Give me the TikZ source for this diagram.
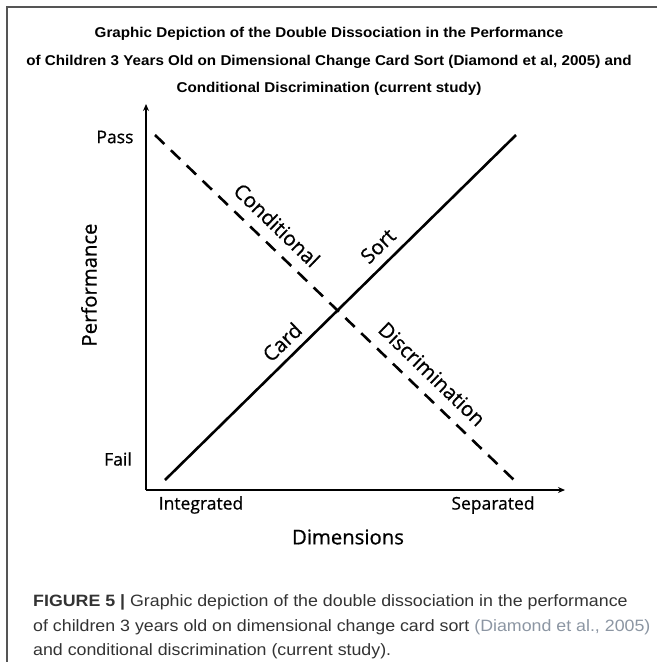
\documentclass[tikz,border=0pt]{standalone}
\usepackage{fontspec}
\usepackage{graphicx}
\setmainfont{Open Sans}
\newfontfamily\lblfont[FakeBold=0.7]{Open Sans}
\newfontfamily\titlefont{Liberation Sans}
\newfontfamily\capfont{Liberation Sans}
\usetikzlibrary{arrows.meta}
\definecolor{capgray}{HTML}{333333}
\definecolor{citegray}{HTML}{8C96A3}
\definecolor{framegray}{HTML}{555555}
\newcommand{\ttlx}[1]{\scalebox{1.07}[1]{#1}}
\newcommand{\capx}[1]{\scalebox{1.085}[1]{#1}}
\tikzset{
  axis/.style={line width=1.4pt, -{Stealth[length=7pt,width=6pt]}},
  solidline/.style={line width=2.6pt},
  dashline/.style={line width=2.6pt, dash pattern=on 13pt off 9pt},
  lbl/.style={font=\lblfont\fontsize{17.5}{20}\selectfont, inner sep=0pt},
  linelbl/.style={font=\lblfont\fontsize{20.5}{23}\selectfont, inner sep=0pt},
  big/.style={font=\lblfont\fontsize{20.3}{23}\selectfont, inner sep=0pt},
  ttl/.style={font=\titlefont\bfseries\fontsize{14.2}{16}\selectfont, inner sep=0pt},
  captext/.style={font=\capfont\fontsize{16.4}{19}\selectfont, text=capgray, inner sep=0pt, anchor=west}
}
\begin{document}
\begin{tikzpicture}[x=1pt,y=-1pt]
\useasboundingbox (0,0) rectangle (657,662);
\fill[white] (0,0) rectangle (657,662);
% frame
\coordinate (ftl) at (7,7);
\coordinate (ftr) at (657,7);
\coordinate (fbl) at (7,662);
\draw[framegray, line width=1.3pt] (ftr) -- (ftl) -- (fbl);
% title
\node[ttl] (t1) at (329,34) {\ttlx{Graphic Depiction of the Double Dissociation in the Performance}};
\node[ttl] (t2) at (329,62) {\ttlx{of Children 3 Years Old on Dimensional Change Card Sort (Diamond et al, 2005) and}};
\node[ttl] (t3) at (329,89) {\ttlx{Conditional Discrimination (current study)}};
% axes
\coordinate (o) at (146,490);
\coordinate (ytop) at (146,104);
\coordinate (xend) at (565,490);
\draw[axis] (o) -- (ytop);
\draw[axis] (o) -- (xend);
% lines
\coordinate (s1) at (165,480);
\coordinate (s2) at (516,135);
\coordinate (d1) at (155,135);
\coordinate (d2) at (514,480);
\draw[solidline] (s1) -- (s2);
\draw[dashline] (d1) -- (d2);
% labels
\node[lbl] (pass) at (115,137) {Pass};
\node[lbl] (fail) at (118,459) {Fail};
\node[lbl] (integ) at (201,505) {Integrated};
\node[lbl] (sep) at (493,505) {Separated};
\node[big] (dim) at (348,537) {Dimensions};
\node[big, rotate=90] (perf) at (89,285) {Performance};
\node[linelbl, rotate=-44] (cond) at (277,225) {Conditional};
\node[linelbl, rotate=-44] (disc) at (432,374) {Discrimination};
\node[linelbl, rotate=44] (card) at (282,342) {Card};
\node[linelbl, rotate=44] (sort) at (378,246) {Sort};
% caption
\node[captext] (c1) at (33,602) {\capx{\textbf{FIGURE 5 |} Graphic depiction of the double dissociation in the performance}};
\node[captext] (c2) at (33,627) {\capx{of children 3 years old on dimensional change card sort \textcolor{citegray}{(Diamond et al., 2005)}}};
\node[captext] (c3) at (33,651) {\capx{and conditional discrimination (current study).}};
\end{tikzpicture}
\end{document}
